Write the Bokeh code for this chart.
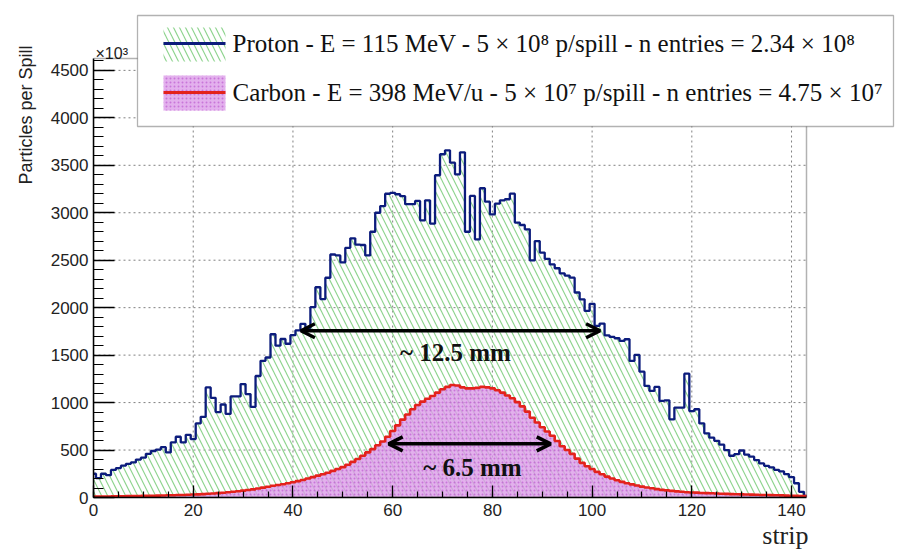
import math
from bokeh.plotting import figure
from bokeh.models import Range1d, FixedTicker, Label, BoxAnnotation, Arrow, OpenHead, Title
from bokeh.core.properties import value
from bokeh.embed import file_html
from bokeh.resources import INLINE

# strip index (bin centres) and counts per spill, in units of 10^3
strips = list(range(144))

proton = [
    250, 205, 250, 235, 290, 310, 335, 355, 370, 400,
    420, 460, 490, 505, 530, 475, 580, 640, 580, 660,
    615, 780, 850, 1160, 1050, 900, 980, 880, 1065, 1065,
    1195, 1090, 955, 1280, 1440, 1475, 1720, 1600, 1670, 1620,
    1710, 1760, 1830, 1785, 2005, 2215, 2090, 2315, 2560, 2550,
    2478, 2630, 2730, 2665, 2660, 2550, 2800, 3000, 3070, 3200,
    3210, 3195, 3175, 3090, 3090, 3124, 2920, 3131, 2885, 3395,
    3616, 3658, 3528, 3405, 3637, 2800, 3177, 2720, 3258, 3117,
    2983, 3096, 3131, 3142, 3201, 2896, 2871, 2825, 2498, 2702,
    2580, 2515, 2455, 2415, 2362, 2338, 2316, 2160, 2088, 1966,
    2040, 1808, 1832, 1709, 1692, 1678, 1650, 1667, 1439, 1502,
    1326, 1175, 1123, 1165, 1017, 1024, 824, 947, 947, 1305,
    910, 930, 780, 676, 630, 597, 557, 500, 440, 456,
    495, 452, 430, 394, 359, 334, 317, 292, 275, 246,
    215, 150, 60, 18,
]

carbon = [
    10, 10, 11, 11, 12, 13, 13, 14, 15, 16,
    17, 18, 19, 20, 21, 23, 24, 26, 27, 29,
    31, 33, 36, 39, 42, 46, 50, 55, 60, 66,
    72, 79, 86, 95, 104, 114, 124, 132, 140, 150,
    160, 172, 185, 200, 215, 230, 245, 260, 280, 300,
    320, 345, 375, 405, 440, 475, 510, 550, 590, 640,
    700, 760, 820, 875, 930, 975, 1010, 1040, 1070, 1105,
    1140, 1165, 1185, 1180, 1160, 1150, 1150, 1155, 1165, 1160,
    1150, 1130, 1105, 1075, 1045, 1005, 960, 905, 840, 790,
    740, 695, 650, 595, 540, 500, 460, 410, 365, 330,
    300, 270, 245, 220, 200, 182, 165, 150, 138, 126,
    115, 106, 97, 88, 80, 75, 70, 65, 60, 56,
    53, 51, 48, 46, 44, 42, 40, 38, 36, 35,
    33, 32, 30, 29, 27, 26, 25, 23, 22, 20,
    19, 18, 16, 15,
]

x_ticks = [0, 20, 40, 60, 80, 100, 120, 140]
y_ticks = [0, 500, 1000, 1500, 2000, 2500, 3000, 3500, 4000, 4500]

proton_label = "Proton - E = 115 MeV - 5 \u00d7 10\u2078 p/spill - n entries = 2.34 \u00d7 10\u2078"
carbon_label = "Carbon - E = 398 MeV/u - 5 \u00d7 10\u2077 p/spill - n entries = 4.75 \u00d7 10\u2077"

NAVY = "#0c1c7c"
RED = "#e3221c"
GREEN_HATCH = "#8fd48f"
PINK = "#dc9ce8"
PINK_DOT = "#b84fcc"
SERIF = "Liberation Serif"
SANS = "Liberation Sans"

# histogram frame limits
X_MAX = 143
Y_MAX = 4625

# The plotting area runs to the top and right edges of the canvas so the
# legend can sit over the histogram frame; the frame itself is drawn below.
W, H = 910, 554
LEFT, BOTTOM = 93, 57
FRAME_W, FRAME_H = 713, 439            # pixel size of the histogram frame
x_end = X_MAX * (W - LEFT) / FRAME_W
y_end = Y_MAX * (H - BOTTOM) / FRAME_H

p = figure(width=W, height=H, output_backend="svg", toolbar_location=None,
           x_range=Range1d(0, x_end), y_range=Range1d(0, y_end),
           min_border_left=LEFT, min_border_right=0,
           min_border_top=0, min_border_bottom=BOTTOM)
p.background_fill_color = "white"
p.border_fill_color = "white"
p.outline_line_color = None
p.xgrid.visible = False
p.ygrid.visible = False

# dotted grid inside the frame
p.segment(x0=x_ticks, y0=[0] * len(x_ticks), x1=x_ticks, y1=[Y_MAX] * len(x_ticks),
          line_color="#808080", line_dash="2 3", line_width=1)
p.segment(x0=[0] * len(y_ticks), y0=y_ticks, x1=[X_MAX] * len(y_ticks), y1=y_ticks,
          line_color="#808080", line_dash="2 3", line_width=1)

# histograms: proton hatched area, carbon dotted area, then outlines
p.varea_step(x=strips, y1=0, y2=proton, step_mode="center",
             fill_alpha=0, hatch_pattern="\\", hatch_color=GREEN_HATCH,
             hatch_scale=12, hatch_weight=1.2)
p.varea_step(x=strips, y1=0, y2=carbon, step_mode="center",
             fill_color=PINK, fill_alpha=0.8, hatch_pattern="dot",
             hatch_color=PINK_DOT, hatch_scale=4, hatch_weight=1, hatch_alpha=0.6)
p.step(x=strips, y=proton, mode="center", line_color=NAVY, line_width=2.3)
p.step(x=strips, y=carbon, mode="center", line_color=RED, line_width=2.6)

# axes in the ROOT look: inward ticks, bounded to the frame
for ax in (p.xaxis, p.yaxis):
    ax.axis_line_color = "black"
    ax.axis_line_width = 1.5
    ax.major_tick_line_color = "black"
    ax.minor_tick_line_color = "black"
    ax.major_tick_line_width = 1.3
    ax.minor_tick_line_width = 1.2
    ax.major_tick_out = 0
    ax.minor_tick_out = 0
    ax.major_label_text_font = SANS
    ax.major_label_text_font_size = "17px"
    ax.major_label_text_color = "#222222"

p.xaxis.bounds = (0, X_MAX)
p.yaxis.bounds = (0, Y_MAX)
p.xaxis.ticker = FixedTicker(ticks=x_ticks, minor_ticks=list(range(0, 144, 5)))
p.yaxis.ticker = FixedTicker(ticks=y_ticks, minor_ticks=list(range(0, 4700, 100)))
p.xaxis.major_tick_in = 12
p.xaxis.minor_tick_in = 6
p.yaxis.major_tick_in = 21
p.yaxis.minor_tick_in = 10
p.xaxis.major_label_standoff = 6
p.yaxis.major_label_standoff = 5

# top and right edges of the histogram frame
p.add_layout(BoxAnnotation(left=0, right=X_MAX, bottom=0, top=Y_MAX,
                           fill_alpha=0, line_color="black", line_width=1.5))

# axis titles and exponent
p.add_layout(Title(text="Particles per Spill", align="right", offset=45,
                   standoff=24, text_font=SANS, text_font_size="18px",
                   text_font_style="normal", text_color="#222222"), "left")
p.add_layout(Title(text="strip", align="right", offset=102, standoff=0,
                   text_font=SERIF, text_font_size="26px",
                   text_font_style="normal", text_color="#222222"), "below")
p.text(x=[0.4], y=[Y_MAX * (H - BOTTOM - 53) / FRAME_H], text=["\u00d710\u00b3"],
       text_align="left", text_baseline="alphabetic",
       text_font=value(SANS), text_font_size="16px", text_color="#222222")

# beam width markers
p.add_layout(Arrow(start=OpenHead(size=14, line_width=3.5, line_color="black"),
                   end=OpenHead(size=14, line_width=3.5, line_color="black"),
                   x_start=41.6, y_start=1757, x_end=101.6, y_end=1757,
                   line_width=3.5, line_color="black"))
p.add_layout(Arrow(start=OpenHead(size=14, line_width=3.5, line_color="black"),
                   end=OpenHead(size=14, line_width=3.5, line_color="black"),
                   x_start=59.2, y_start=565, x_end=91.7, y_end=565,
                   line_width=3.5, line_color="black"))
p.add_layout(Label(x=72.6, y=1526, text="~ 12.5 mm", text_align="center",
                   text_baseline="middle", text_font=SERIF, text_font_style="bold",
                   text_font_size="25px", text_color="#111111"))
p.add_layout(Label(x=76, y=312, text="~ 6.5 mm", text_align="center",
                   text_baseline="middle", text_font=SERIF, text_font_style="bold",
                   text_font_size="25px", text_color="#111111"))

# legend box in screen space (origin at the frame's lower-left corner)
scr = dict(left_units="screen", right_units="screen",
           top_units="screen", bottom_units="screen")
p.add_layout(BoxAnnotation(left=44, right=800, top=482, bottom=371,
                           fill_color="white", fill_alpha=1,
                           line_color="black", line_width=1.3, **scr))
p.add_layout(BoxAnnotation(left=70, right=132, top=470, bottom=436,
                           fill_alpha=0, line_alpha=0,
                           hatch_pattern="\\", hatch_color=GREEN_HATCH,
                           hatch_scale=12, hatch_weight=1.2, **scr))
p.add_layout(BoxAnnotation(left=70, right=132, top=455.5, bottom=452.5,
                           fill_color=NAVY, fill_alpha=1, line_alpha=0, **scr))
p.add_layout(BoxAnnotation(left=70, right=132, top=422, bottom=387,
                           fill_color=PINK, fill_alpha=0.8, line_alpha=0,
                           hatch_pattern="dot", hatch_color=PINK_DOT,
                           hatch_scale=4, hatch_weight=1, hatch_alpha=0.6, **scr))
p.add_layout(BoxAnnotation(left=70, right=132, top=406.5, bottom=403.5,
                           fill_color=RED, fill_alpha=1, line_alpha=0, **scr))
p.add_layout(Label(x=139, y=454, x_units="screen", y_units="screen",
                   text=proton_label, text_align="left", text_baseline="middle",
                   text_font=SERIF, text_font_size="25px", text_color="#111111"))
p.add_layout(Label(x=139, y=405, x_units="screen", y_units="screen",
                   text=carbon_label, text_align="left", text_baseline="middle",
                   text_font=SERIF, text_font_size="25px", text_color="#111111"))

open("out.html", "w").write(file_html(p, INLINE))
